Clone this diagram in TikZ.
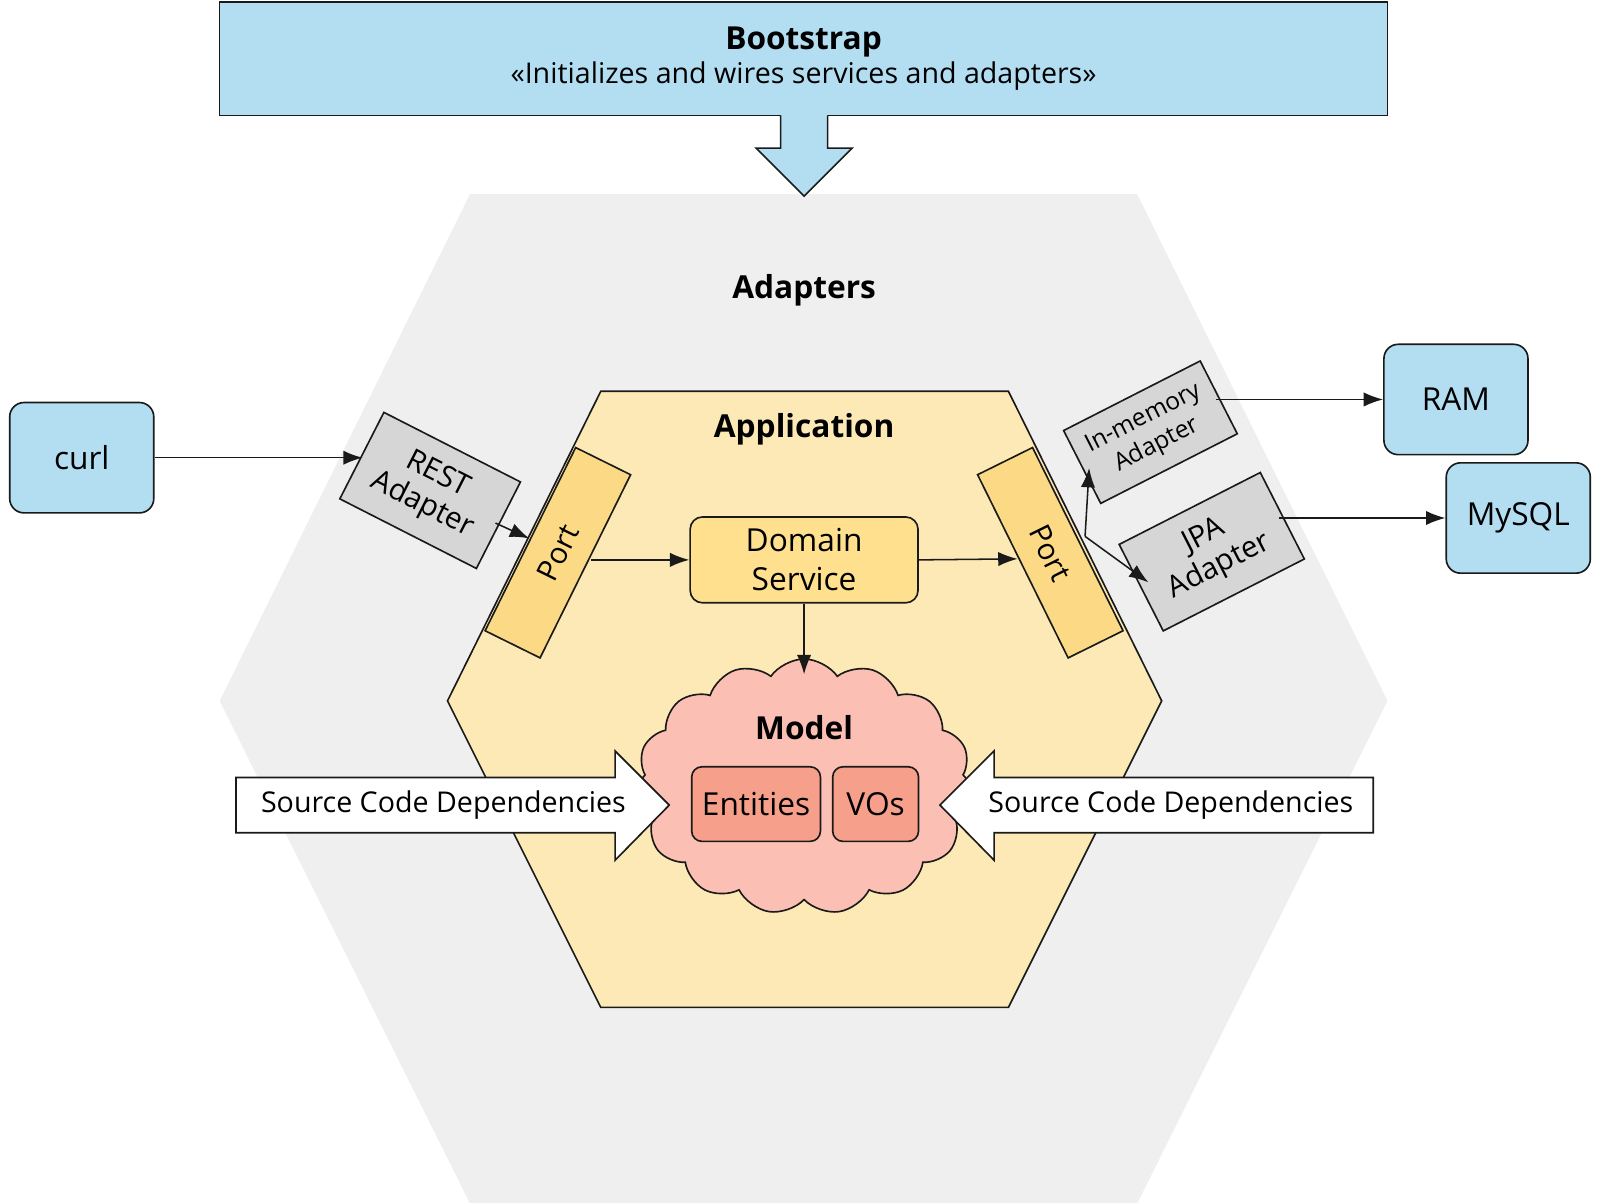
\documentclass[tikz,border=0pt]{standalone}
\usepackage{fontspec}
\setmainfont{Open Sans}
\usetikzlibrary{arrows.meta,shapes.symbols}
\definecolor{bl}{HTML}{B3DEF2}
\definecolor{hexo}{HTML}{EFEFEF}
\definecolor{hexi}{HTML}{FDE9B5}
\definecolor{portc}{HTML}{FBD985}
\definecolor{domc}{HTML}{FEE08E}
\definecolor{gr}{HTML}{D6D6D6}
\definecolor{cl}{HTML}{FBC0B3}
\definecolor{ent}{HTML}{F6A08C}
\definecolor{ln}{HTML}{1A1A1A}
\tikzset{
 lw/.style={line width=1.6pt, draw=ln},
 ext/.style={lw, fill=bl, rounded corners=14pt, minimum width=141pt, minimum height=108pt, font=\fontsize{31}{36}\selectfont},
 portbox/.style={lw, fill=portc, minimum width=200pt, minimum height=60pt, font=\fontsize{29}{32}\selectfont},
 adbox/.style={lw, fill=gr, align=center, inner sep=2pt, font=\fontsize{29}{33}\selectfont},
 con/.style={line width=1.5pt, draw=ln, -{Latex[length=19pt,width=14pt]}},
 ttl/.style={font=\bfseries\fontsize{31}{36}\selectfont},
 src/.style={lw, fill=white},
 srct/.style={font=\fontsize{28}{32}\selectfont},
 inbox/.style={lw, fill=ent, rounded corners=10pt, minimum height=73pt, font=\fontsize{31}{36}\selectfont}
}
\begin{document}
\begin{tikzpicture}[x=1pt,y=1pt]
% outer hex
\fill[hexo] (460,1012)--(1113,1012)--(1358,516)--(1113,24)--(460,24)--(215,516)--cycle;
\node[ttl] (adt) at (787,918) {Adapters};
% bootstrap
\node[lw, fill=bl, minimum width=1143pt, minimum height=111pt, align=center, inner sep=0pt] (boot) at (786.5,1144.5)
 {{\bfseries\fontsize{31}{40}\selectfont Bootstrap}\\[4pt]{\fontsize{28}{36}\selectfont «Initializes and wires services and adapters»}};
\fill[bl] (764,1090.5)--(764,1057)--(740,1057)--(787,1010)--(834,1057)--(810,1057)--(810,1090.5)--cycle;
\draw[lw] (764,1089)--(764,1057)--(740,1057)--(787,1010)--(834,1057)--(810,1057)--(810,1089);
% inner hex
\draw[lw, fill=hexi] (588,819)--(987,819)--(1137,516)--(987,216)--(588,216)--(438,516)--cycle;
\node[ttl] (appt) at (787,782) {Application};
% ports
\node[portbox, rotate=63.7] (lport) at (546,661) {Port};
\node[portbox, rotate=-63.7] (rport) at (1028,661) {Port};
% adapters
\node[adbox, rotate=-27, minimum width=150pt, minimum height=95pt] (rest) at (421,722) {REST\\Adapter};
\node[adbox, rotate=27, minimum width=150pt, minimum height=80pt, font=\fontsize{24}{29}\selectfont] (inmem) at (1126,779) {In-memory\\Adapter};
\node[adbox, rotate=27, minimum width=155pt, minimum height=95pt] (jpa) at (1186,662) {JPA\\Adapter};
% externals
\node[ext] (curl) at (80,754) {curl};
\node[ext] (ram) at (1425,811) {RAM};
\node[ext] (mysql) at (1486,695) {MySQL};
% domain
\node[lw, fill=domc, rounded corners=12pt, minimum width=223pt, minimum height=84pt, align=center, font=\fontsize{31}{38}\selectfont] (dom) at (787,654) {Domain\\Service};
% model
\node[cloud, cloud puffs=15, cloud puff arc=110, aspect=1.3, lw, fill=cl, minimum width=330pt, minimum height=250pt] (model) at (787,432) {};
\node[ttl] (modt) at (787,490) {Model};
\node[inbox, minimum width=126pt] (entities) at (740,415) {Entities};
\node[inbox, minimum width=84pt] (vos) at (857,415) {VOs};
% source code dependency arrows
\draw[src] (231,441)--(602,441)--(602,467)--(655,414)--(602,360)--(602,387)--(231,387)--cycle;
\node[srct] (srcl) at (434,414) {Source Code Dependencies};
\draw[src] (1344,441)--(973,441)--(973,467)--(920,414)--(973,360)--(973,387)--(1344,387)--cycle;
\node[srct] (srcr) at (1146,414) {Source Code Dependencies};
% connectors
\coordinate (restin) at (355,754);
\coordinate (restout) at (485,690);
\coordinate (lportin) at (518,675);
\coordinate (lportout) at (578,654);
\coordinate (rportin) at (996,655);
\coordinate (modtop) at (787,542);
\coordinate (br) at (1062,677);
\coordinate (inmemin) at (1066,744);
\coordinate (jpain) at (1124,632);
\coordinate (inmemout) at (1190,811);
\coordinate (jpaout) at (1252,695);
\draw[con] (curl.east) -- (restin);
\draw[con] (restout) -- (lportin);
\draw[con] (lportout) -- (dom.west);
\draw[con] (dom.east) -- (rportin);
\draw[con] (dom.south) -- (modtop);
\draw[con] (br) -- (inmemin);
\draw[con] (br) -- (jpain);
\draw[con] (inmemout) -- (ram.west);
\draw[con] (jpaout) -- (mysql.west);
\pgfresetboundingbox
\path[use as bounding box] (0,25) rectangle (1566,1202);
\end{tikzpicture}
\end{document}
